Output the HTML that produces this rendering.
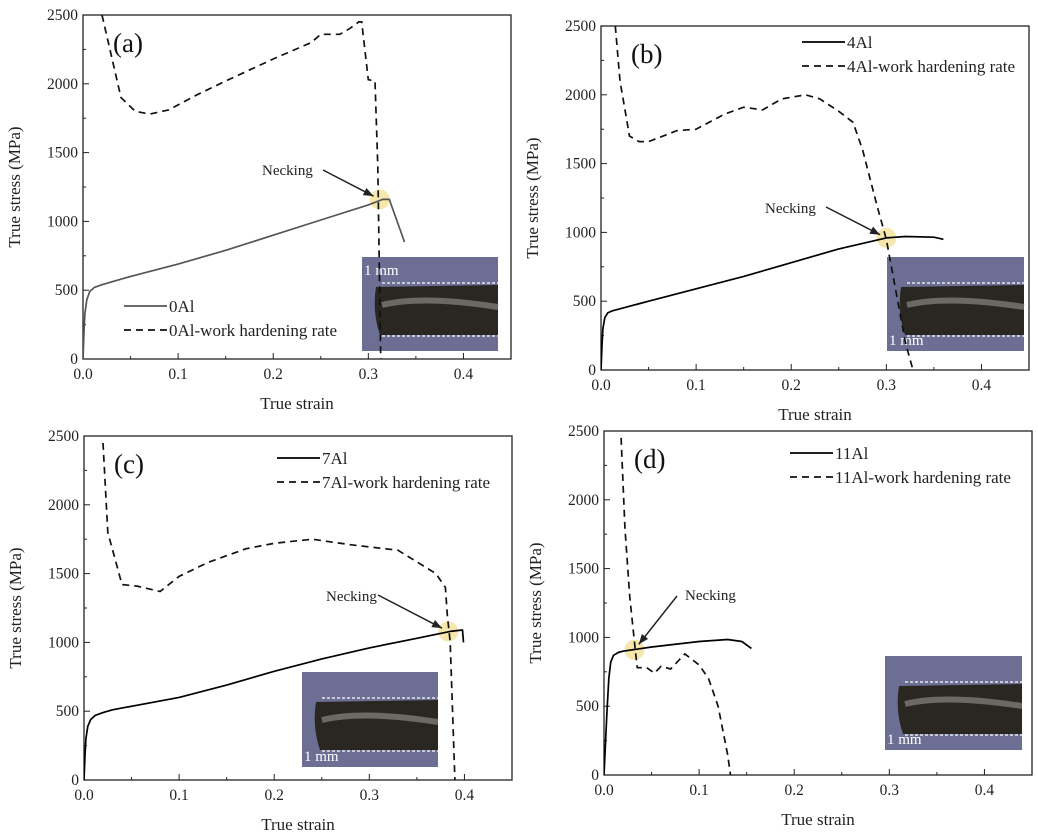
<!DOCTYPE html>
<html><head><meta charset="utf-8"><style>
body{margin:0;background:#fff;}
svg{display:block;font-family:"Liberation Serif",serif;}
</style></head><body>
<svg id="fig" width="1038" height="833" viewBox="0 0 1038 833" xmlns="http://www.w3.org/2000/svg"></svg>
<script>
const xTicks=[0,0.1,0.2,0.3,0.4];
const xTickLabels=["0.0","0.1","0.2","0.3","0.4"];
const yTicks=[0,500,1000,1500,2000,2500];
const yTickLabels=["0","500","1000","1500","2000","2500"];
const panelLabels=["(a)","(b)","(c)","(d)"];
const alloyNames=["0Al","4Al","7Al","11Al"];
// panel a
const strainA=[0,0.001,0.002,0.004,0.007,0.012,0.02,0.05,0.1,0.15,0.2,0.25,0.3,0.315,0.322,0.338];
const stressA=[0,200,330,430,490,520,540,600,690,790,900,1010,1120,1160,1160,850];
const whrStrainA=[0.02,0.03,0.04,0.055,0.07,0.09,0.12,0.15,0.2,0.24,0.25,0.27,0.28,0.29,0.293,0.3,0.307,0.31,0.313];
const whrA=[2500,2200,1900,1800,1780,1810,1920,2020,2180,2300,2360,2360,2400,2450,2450,2030,2020,1400,0];
// panel b
const strainB=[0,0.001,0.002,0.004,0.007,0.012,0.02,0.05,0.1,0.15,0.2,0.25,0.3,0.32,0.35,0.36];
const stressB=[0,180,300,380,415,430,445,500,590,680,780,880,960,970,965,950];
const whrStrainB=[0.015,0.02,0.03,0.04,0.05,0.08,0.1,0.13,0.15,0.17,0.19,0.215,0.23,0.25,0.265,0.275,0.29,0.3,0.32,0.328];
const whrB=[2500,2100,1700,1660,1660,1740,1750,1860,1910,1890,1970,2000,1970,1880,1800,1600,1200,950,200,0];
// panel c
const strainC=[0,0.001,0.002,0.004,0.007,0.012,0.02,0.03,0.1,0.15,0.2,0.25,0.3,0.35,0.385,0.398,0.399];
const stressC=[0,180,300,390,440,470,490,510,600,690,790,880,960,1030,1080,1090,1000];
const whrStrainC=[0.02,0.025,0.04,0.055,0.08,0.1,0.13,0.17,0.2,0.24,0.28,0.33,0.37,0.38,0.382,0.385,0.39];
const whrC=[2450,1800,1420,1410,1370,1480,1580,1680,1720,1750,1710,1670,1500,1400,1200,1000,0];
// panel d
const strainD=[0,0.003,0.005,0.007,0.01,0.015,0.02,0.05,0.1,0.13,0.145,0.155];
const stressD=[0,450,700,820,870,890,900,930,970,985,970,920];
const whrStrainD=[0.018,0.022,0.027,0.033,0.035,0.045,0.053,0.06,0.07,0.085,0.1,0.11,0.12,0.13,0.133];
const whrD=[2450,1800,1300,900,780,780,740,790,770,880,800,700,500,150,0];
const neckStrain=[0.312,0.3,0.383,0.032];
const neckStress=[1160,960,1080,910];

const NS="http://www.w3.org/2000/svg";
const svg=document.getElementById('fig');
function mk(tag,attrs,parent){const e=document.createElementNS(NS,tag);for(const k in attrs)e.setAttribute(k,attrs[k]);(parent||svg).appendChild(e);return e;}

const panels=[
 {x0:83,y0:15,s:[strainA,stressA],w:[whrStrainA,whrA],color:"#555",legX:124,legY:306,inset:[362,257,136,94,true],neckText:[262,175],arrow:[323,170]},
 {x0:601,y0:26,s:[strainB,stressB],w:[whrStrainB,whrB],color:"#000",legX:802,legY:42,inset:[887,257,137,94,false],neckText:[765,213],arrow:[826,207]},
 {x0:84,y0:436,s:[strainC,stressC],w:[whrStrainC,whrC],color:"#000",legX:277,legY:458,inset:[302,672,136,95,false],neckText:[326,601],arrow:[378,595]},
 {x0:604,y0:431,s:[strainD,stressD],w:[whrStrainD,whrD],color:"#000",legX:790,legY:453,inset:[885,656,137,94,false],neckText:[685,600],arrow:[677,596]}
];
const PW=428,PH=344,XMAX=0.45,YMAX=2500;

panels.forEach((p,i)=>{
 const g=mk('g',{});
 
 
 const xs=v=>p.x0+v/XMAX*PW, ys=v=>p.y0+PH-v/YMAX*PH;
 const cp=mk('clipPath',{id:'clip'+i},g);
 mk('rect',{x:p.x0,y:p.y0,width:PW,height:PH},cp);
 const [ix,iy,iw,ih,topScale]=p.inset;
 const ins=mk('g',{},g);
 
 
 mk('rect',{x:ix,y:iy,width:iw,height:ih,fill:"#6c6f93"},ins);
 mk('path',{d:`M${ix+14} ${iy+30} L${ix+iw} ${iy+28} L${ix+iw} ${iy+78} L${ix+18} ${iy+78} Q${ix+10} ${iy+55} ${ix+14} ${iy+30}Z`,fill:"#2a2622"},ins);
 mk('path',{d:`M${ix+20} ${iy+48} Q${ix+60} ${iy+38} ${ix+iw} ${iy+50}`,stroke:"#9a9590",'stroke-width':6,fill:"none",opacity:0.6},ins);
 mk('line',{x1:ix+20,y1:iy+26,x2:ix+iw,y2:iy+26,stroke:"#fff",'stroke-dasharray':"3,2",'stroke-width':1.2},ins);
 mk('line',{x1:ix+20,y1:iy+79,x2:ix+iw,y2:iy+79,stroke:"#fff",'stroke-dasharray':"3,2",'stroke-width':1.2},ins);
 const sb=mk('text',{x:ix+2,y:topScale?iy+18:iy+ih-6,fill:"#fff",'font-size':15},ins);sb.textContent="1 mm";
 
 const fr=mk('rect',{x:p.x0,y:p.y0,width:PW,height:PH,fill:"none",stroke:"#222",'stroke-width':1.3},g);
 
 xTicks.forEach((t,k)=>{
  mk('line',{x1:xs(t),y1:p.y0+PH,x2:xs(t),y2:p.y0+PH-6,stroke:"#222"},g);
  mk('line',{x1:xs(t+0.05),y1:p.y0+PH,x2:xs(t+0.05),y2:p.y0+PH-3,stroke:"#222"},g);
  const tl=mk('text',{x:xs(t),y:p.y0+PH+20,'text-anchor':'middle','font-size':15.5,fill:"#222"},g);tl.textContent=xTickLabels[k];
  
 });
 yTicks.forEach((t,k)=>{
  mk('line',{x1:p.x0,y1:ys(t),x2:p.x0+6,y2:ys(t),stroke:"#222"},g);
  if(t<2500)mk('line',{x1:p.x0,y1:ys(t+250),x2:p.x0+3,y2:ys(t+250),stroke:"#222"},g);
  const tl=mk('text',{x:p.x0-5,y:ys(t)+5,'text-anchor':'end','font-size':15.5,fill:"#222"},g);tl.textContent=yTickLabels[k];
  
 });
 const xt=mk('text',{x:p.x0+PW/2,y:p.y0+PH+50,'text-anchor':'middle','font-size':17,fill:"#222"},g);xt.textContent="True strain";
 
 const yx=p.x0-63,yy=p.y0+PH/2;
 const yt=mk('text',{x:yx,y:yy,transform:`rotate(-90 ${yx} ${yy})`,'text-anchor':'middle','font-size':17,fill:"#222"},g);yt.textContent="True stress (MPa)";
 
 const pl=mk('text',{x:p.x0+30,y:p.y0+37,'font-size':27,fill:"#111"},g);pl.textContent=panelLabels[i];
 
 const nx=xs(neckStrain[i]),ny=ys(neckStress[i]);
 const hc=mk('circle',{cx:nx,cy:ny,r:10,fill:"#f3df90",opacity:0.75},g);
 
 const cg=mk('g',{'clip-path':`url(#clip${i})`},g);
 const sp=mk('path',{d:p.s[0].map((v,k)=>(k?'L':'M')+xs(v).toFixed(1)+' '+ys(p.s[1][k]).toFixed(1)).join(' '),fill:'none',stroke:p.color,'stroke-width':1.7,'stroke-linejoin':'round'},cg);
 
 const wp=mk('path',{d:p.w[0].map((v,k)=>(k?'L':'M')+xs(v).toFixed(1)+' '+ys(p.w[1][k]).toFixed(1)).join(' '),fill:'none',stroke:'#111','stroke-width':1.7,'stroke-dasharray':'7,5'},cg);
 
 const nt=mk('text',{x:p.neckText[0],y:p.neckText[1],'font-size':15,fill:"#222"},g);nt.textContent="Necking";
 
 const ax=p.arrow[0],ay=p.arrow[1];
 const dx=nx-ax,dy=ny-ay,L=Math.hypot(dx,dy),ux=dx/L,uy=dy/L;
 const ex=nx-ux*7,ey=ny-uy*7;
 const ar=mk('g',{},g);
 
 mk('line',{x1:ax,y1:ay,x2:ex,y2:ey,stroke:"#222",'stroke-width':1.5},ar);
 mk('path',{d:`M${ex} ${ey} L${ex-ux*10-uy*4} ${ey-uy*10+ux*4} L${ex-ux*10+uy*4} ${ey-uy*10-ux*4}Z`,fill:"#222"},ar);
 const lg=mk('g',{},g);
 
 const l1=mk('g',{},lg);
 mk('line',{x1:p.legX,y1:p.legY,x2:p.legX+43,y2:p.legY,stroke:p.color,'stroke-width':1.7},l1);
 const t1=mk('text',{x:p.legX+45,y:p.legY+6,'font-size':17,fill:"#222"},l1);t1.textContent=alloyNames[i];
 const l2=mk('g',{},lg);
 mk('line',{x1:p.legX,y1:p.legY+24,x2:p.legX+43,y2:p.legY+24,stroke:'#111','stroke-width':1.7,'stroke-dasharray':'7,5'},l2);
 const t2=mk('text',{x:p.legX+45,y:p.legY+30,'font-size':17,fill:"#222"},l2);t2.textContent=alloyNames[i]+"-work hardening rate";
});
</script>
</body></html>
